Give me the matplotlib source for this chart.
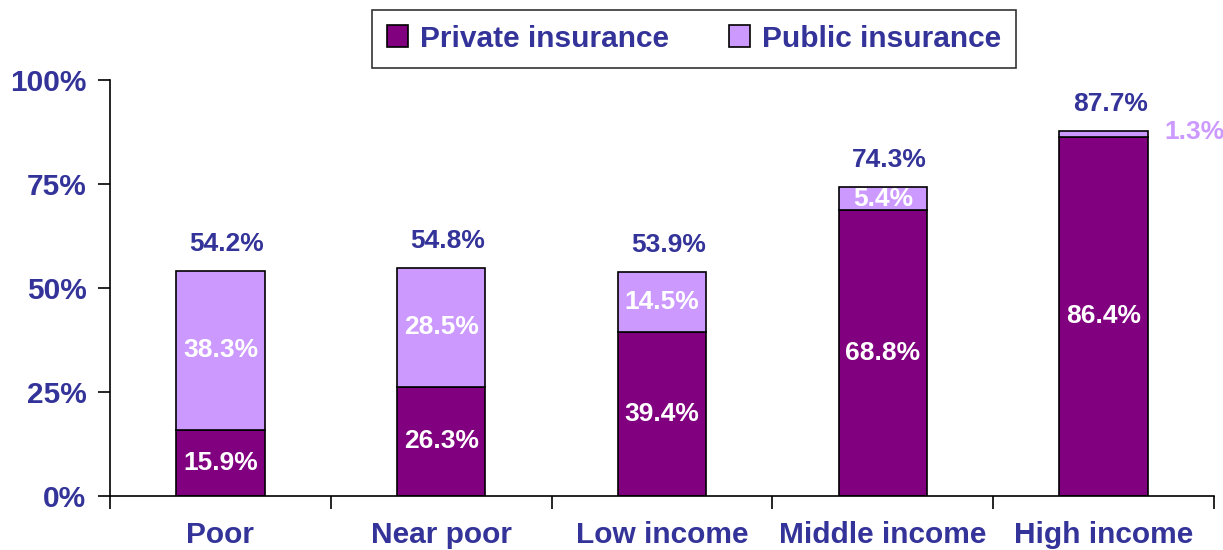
import matplotlib
matplotlib.use("Agg")
import matplotlib.pyplot as plt
import numpy as np
from matplotlib.ticker import FixedLocator

categories = ["Poor", "Near poor", "Low income", "Middle income", "High income"]
private = [15.9, 26.3, 39.4, 68.8, 86.4]
public = [38.3, 28.5, 14.5, 5.4, 1.3]
totals = [54.2, 54.8, 53.9, 74.3, 87.7]
yticks = [0, 25, 50, 75, 100]
ytick_labels = ["0%", "25%", "50%", "75%", "100%"]

plt.rcParams['font.family'] = ['Liberation Sans', 'DejaVu Sans']
plt.rcParams['font.weight'] = 'bold'

TXT = "#333399"
PRIV = "#800080"
PUB = "#CC99FF"

fig = plt.figure(figsize=(12.23, 5.5), dpi=100)
ax = fig.add_axes([0.09, 0.098, 0.9026, 0.7565])

x = np.arange(len(categories))
w = 0.4
ax.bar(x, private, w, color=PRIV, edgecolor="black", linewidth=1.2, label="Private insurance")
ax.bar(x, public, w, bottom=private, color=PUB, edgecolor="black", linewidth=1.2, label="Public insurance")

ax.set_xlim(-0.5, len(categories) - 0.5)
ax.set_ylim(0, 100)
ax.set_yticks(yticks)
ax.set_yticklabels(ytick_labels)
ax.set_xticks(x)
ax.set_xticklabels(categories)
ax.xaxis.set_minor_locator(FixedLocator(np.arange(-0.5, len(categories), 1.0)))
ax.tick_params(axis='x', which='major', length=0, pad=18, labelsize=21.5, labelcolor=TXT)
ax.tick_params(axis='x', which='minor', length=9, width=1.2, direction='out')
ax.tick_params(axis='y', length=9, width=1.2, direction='out', labelsize=21.5, labelcolor=TXT, pad=8)
for lab in ax.get_xticklabels() + ax.get_yticklabels():
    lab.set_fontweight('bold')

for s in ['top', 'right']:
    ax.spines[s].set_visible(False)
for s in ['left', 'bottom']:
    ax.spines[s].set_linewidth(1.2)

for i in range(len(categories)):
    ax.text(x[i], private[i] / 2, f"{private[i]}%", ha='center', va='center',
            color='white', fontsize=19, fontweight='bold')
    if public[i] >= 3:
        ax.text(x[i], private[i] + public[i] / 2, f"{public[i]}%", ha='center', va='center',
                color='white', fontsize=19, fontweight='bold')
    else:
        ax.text(x[i] + 0.276, totals[i] - 0.3, f"{public[i]}%", ha='left', va='center',
                color=PUB, fontsize=19, fontweight='bold')
    ax.text(x[i] + 0.03, totals[i] + 6.5, f"{totals[i]}%", ha='center', va='center',
            color=TXT, fontsize=19, fontweight='bold')

leg = fig.legend(loc='upper center', bbox_to_anchor=(0.5675, 0.982), ncol=2, frameon=True,
                 fancybox=False, edgecolor='black', fontsize=21.5, handlelength=0.7,
                 handleheight=0.75, handletextpad=0.4, columnspacing=2.0,
                 borderpad=0.5, borderaxespad=0)
leg.get_frame().set_linewidth(1.2)
for t in leg.get_texts():
    t.set_color(TXT)
    t.set_fontweight('bold')

fig.savefig("out.png", dpi=100)
